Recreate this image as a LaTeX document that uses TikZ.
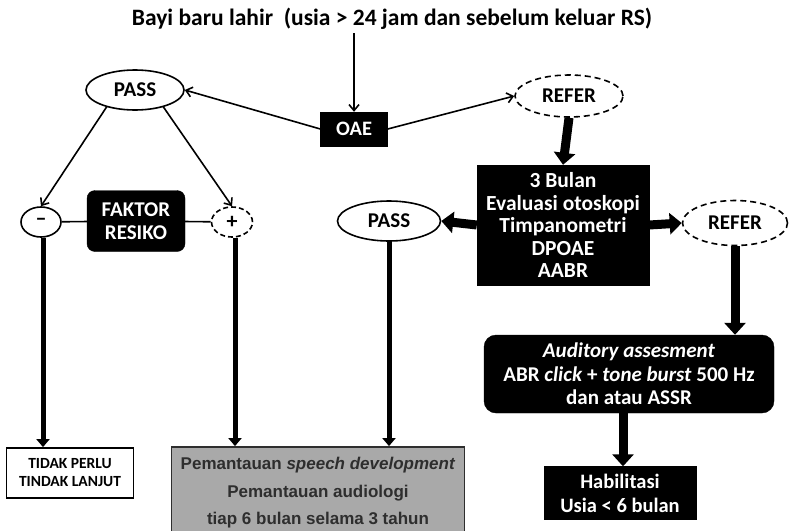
\documentclass[tikz,border=0pt]{standalone}
\usepackage{fontspec}
\setmainfont{Carlito}
\newfontfamily\arialfont{Liberation Sans}
\usetikzlibrary{arrows.meta,shapes.geometric}
\definecolor{boxgray}{HTML}{A9A9A9}
\definecolor{textgray}{HTML}{2E2E2E}
\tikzset{
  blackbox/.style = {draw=black, fill=black, text=white, font=\fontsize{21.5}{22.5}\selectfont\bfseries, align=center, inner sep=0pt},
  oval/.style     = {draw, ellipse, line width=1.6pt, font=\fontsize{21}{22}\selectfont\bfseries, inner sep=0pt},
  thinarrow/.style  = {line width=1.6pt, -{Straight Barb[length=6pt,width=10pt]}},
  fatarrow/.style   = {line width=9pt, -{Triangle[length=12pt,width=21pt]}},
  longarrow/.style  = {line width=5pt, -{Triangle[length=8pt,width=13pt]}},
}
\begin{document}
\begin{tikzpicture}[x=1pt, y=-1pt]
        \useasboundingbox (0,0) rectangle (791,530);
        % top of the chart
        \node[font=\fontsize{23.5}{25}\selectfont\bfseries] (bayi) at (392,19) {Bayi baru lahir\ \ (usia > 24 jam dan sebelum keluar RS)};
        \node[blackbox, minimum width=67pt, minimum height=34pt, font=\fontsize{20.5}{22}\selectfont\bfseries] (oae) at (354,129) {OAE};
        \node[oval, minimum width=98pt, minimum height=40pt] (pass1) at (135,90) {PASS};
        \node[oval, dashed, dash pattern=on 6pt off 4pt, minimum width=108pt, minimum height=42pt] (refer1) at (569,96) {REFER};
        \draw[thinarrow] (oae.north |- bayi.south) -- (oae.north);
        \draw[thinarrow] (oae.west) -- (pass1.east);
        \draw[thinarrow] (oae.east) -- (refer1.west);
        % left branch
        \node[draw, ellipse, line width=1.6pt, minimum width=40pt, minimum height=30pt, inner sep=0pt, font=\fontsize{22}{22}\selectfont\bfseries] (minus) at (41,222) {--};
        \node[draw, ellipse, dashed, dash pattern=on 5pt off 3pt, line width=1.6pt, minimum width=41pt, minimum height=30pt, inner sep=0pt, font=\fontsize{22}{22}\selectfont\bfseries] (plus) at (232,222) {+};
        \node[blackbox, rounded corners=8pt, minimum width=98pt, minimum height=61pt, font=\fontsize{21}{23}\selectfont\bfseries] (faktor) at (136,221) {FAKTOR\\RESIKO};
        \draw[thinarrow] (pass1.south west) ++(7,2) coordinate (p1a) (p1a) -- (minus.north);
        \draw[thinarrow] (pass1.south east) ++(-7,2) coordinate (p1b) (p1b) -- (plus.north);
        \draw[line width=1.6pt] (minus) -- (faktor) -- (plus);
        % 3 bulan
        \node[blackbox, minimum width=172pt, minimum height=120pt] (bulan) at (563,225) {3 Bulan\\Evaluasi otoskopi\\Timpanometri\\DPOAE\\AABR};
        \node[oval, minimum width=103pt, minimum height=40pt] (pass2) at (389,221) {PASS};
        \node[oval, dashed, dash pattern=on 6pt off 4pt, minimum width=105pt, minimum height=45pt] (refer2) at (735,223) {REFER};
        \draw[fatarrow] (refer1.south) -- (bulan.north);
        \draw[fatarrow] (bulan.west) -- (pass2.east);
        \draw[fatarrow] (bulan.east) -- (refer2.west);
        \node[blackbox, rounded corners=12pt, minimum width=290pt, minimum height=78pt, font=\fontsize{21}{23.5}\selectfont\bfseries] (audit) at (629,374) {\textit{Auditory assesment}\\ABR \textit{click} + \textit{tone burst} 500 Hz\\dan atau ASSR};
        \node[blackbox, minimum width=152pt, minimum height=53pt, font=\fontsize{20.5}{24}\selectfont\bfseries] (habil) at (620,493) {Habilitasi\\Usia < 6 bulan};
        \draw[fatarrow] (refer2.south) -- (audit.north -| refer2.south);
        \draw[fatarrow] ([xshift=-6pt]audit.south) -- ([xshift=-6pt]audit.south |- habil.north);
        % bottom boxes
        \node[draw, line width=1.8pt, fill=white, minimum width=127pt, minimum height=50pt, align=center, inner sep=0pt, font=\fontsize{15.5}{18}\selectfont\bfseries] (tidak) at (70,473) {TIDAK PERLU\\TINDAK LANJUT};
        \node[draw=textgray, line width=1.8pt, fill=boxgray, text=textgray, minimum width=293pt, minimum height=92pt, align=center, inner sep=0pt, font=\arialfont\fontsize{17}{27.5}\selectfont\bfseries] (pantau) at (318,493) {Pemantauan \textit{speech development}\\Pemantauan audiologi\\tiap 6 bulan selama 3 tahun};
        \draw[longarrow] (minus.south) ++(2,0) coordinate (ma) (ma) -- (ma |- tidak.north);
        \draw[longarrow] (plus.south) ++(3,0) coordinate (pa) (pa) -- (pa |- pantau.north);
        \draw[longarrow] (pass2.south) -- (pass2.south |- pantau.north);
\end{tikzpicture}
\end{document}
